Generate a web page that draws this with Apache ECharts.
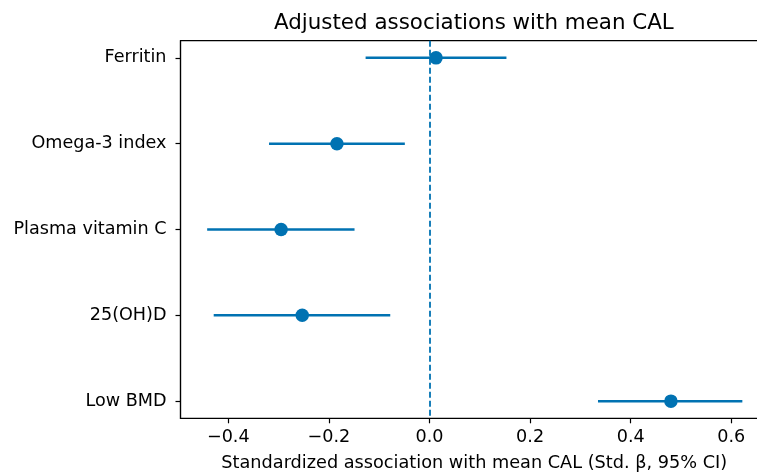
<!DOCTYPE html>
<html>
<head>
<meta charset="utf-8">
<script src="https://cdn.jsdelivr.net/npm/echarts@6/dist/echarts.min.js"></script>
<style>
html,body{margin:0;padding:0;background:#fff;}
#chart{width:757px;height:472px;}
</style>
</head>
<body>
<div id="chart"></div>
<script>
const categories = ['Ferritin', 'Omega-3 index', 'Plasma vitamin C', '25(OH)D', 'Low BMD'];
const estimates = [0.013, -0.184, -0.295, -0.253, 0.480];
const ciLower = [-0.127, -0.319, -0.442, -0.429, 0.335];
const ciUpper = [0.153, -0.049, -0.149, -0.078, 0.622];
const xTicks = [-0.4, -0.2, 0.0, 0.2, 0.4, 0.6];
const yTicks = [0, 1, 2, 3, 4];

const BLUE = '#0072B2';
const FONT = 'DejaVu Sans';

const chart = echarts.init(document.getElementById('chart'), null, {renderer: 'canvas'});

const ciData = categories.map((c, i) => [ciLower[i], ciUpper[i], i]);
const ptData = categories.map((c, i) => [estimates[i], i]);

chart.setOption({
  animation: false,
  backgroundColor: '#fff',
  title: {
    text: 'Adjusted associations with mean CAL',
    left: 274,
    top: 13,
    padding: 0,
    textStyle: {fontFamily: FONT, fontSize: 21.4, fontWeight: 'normal', color: '#000'}
  },
  grid: {
    left: 180.5, top: 40.7, right: -11, bottom: 53.7,
    show: true, borderColor: '#000', borderWidth: 1.2, backgroundColor: 'transparent',
    containLabel: false, outerBoundsMode: 'none'
  },
  xAxis: {
    type: 'value',
    min: -0.495, max: 0.673,
    name: 'Standardized association with mean CAL (Std. \u03b2, 95% CI)',
    nameLocation: 'middle',
    nameGap: 36,
    nameTextStyle: {fontFamily: FONT, fontSize: 17.7, color: '#000'},
    axisLine: {show: true, onZero: false, lineStyle: {color: '#000', width: 1.2}},
    axisTick: {show: true, customValues: xTicks, length: 5, lineStyle: {color: '#000', width: 1.2}},
    axisLabel: {
      customValues: xTicks, margin: 10,
      fontFamily: FONT, fontSize: 17.6, color: '#000',
      formatter: v => (v < 0 ? '\u2212' : '') + Math.abs(v).toFixed(1)
    },
    splitLine: {show: false}
  },
  yAxis: {
    type: 'value',
    inverse: true,
    min: -0.2, max: 4.2,
    axisLine: {show: true, onZero: false, lineStyle: {color: '#000', width: 1.2}},
    axisTick: {show: true, customValues: yTicks, length: 5, lineStyle: {color: '#000', width: 1.2}},
    axisLabel: {
      customValues: yTicks, margin: 14,
      fontFamily: FONT, fontSize: 17.6, color: '#000',
      formatter: v => categories[Math.round(v)]
    },
    splitLine: {show: false}
  },
  series: [
    {
      type: 'custom',
      data: ciData,
      encode: {x: [0, 1], y: 2},
      renderItem: function (params, api) {
        const p1 = api.coord([api.value(0), api.value(2)]);
        const p2 = api.coord([api.value(1), api.value(2)]);
        return {
          type: 'line',
          shape: {x1: p1[0], y1: p1[1], x2: p2[0], y2: p2[1]},
          style: {stroke: BLUE, lineWidth: 2.5}
        };
      },
      z: 2
    },
    {
      type: 'scatter',
      data: ptData,
      symbol: 'circle',
      symbolSize: 13.5,
      itemStyle: {color: BLUE, opacity: 1},
      z: 3,
      markLine: {
        silent: true,
        symbol: ['none', 'none'],
        label: {show: false},
        lineStyle: {color: BLUE, type: [6, 3], width: 1.8, opacity: 1},
        data: [{xAxis: 0}],
        z: 1
      }
    }
  ]
});
</script>
</body>
</html>
